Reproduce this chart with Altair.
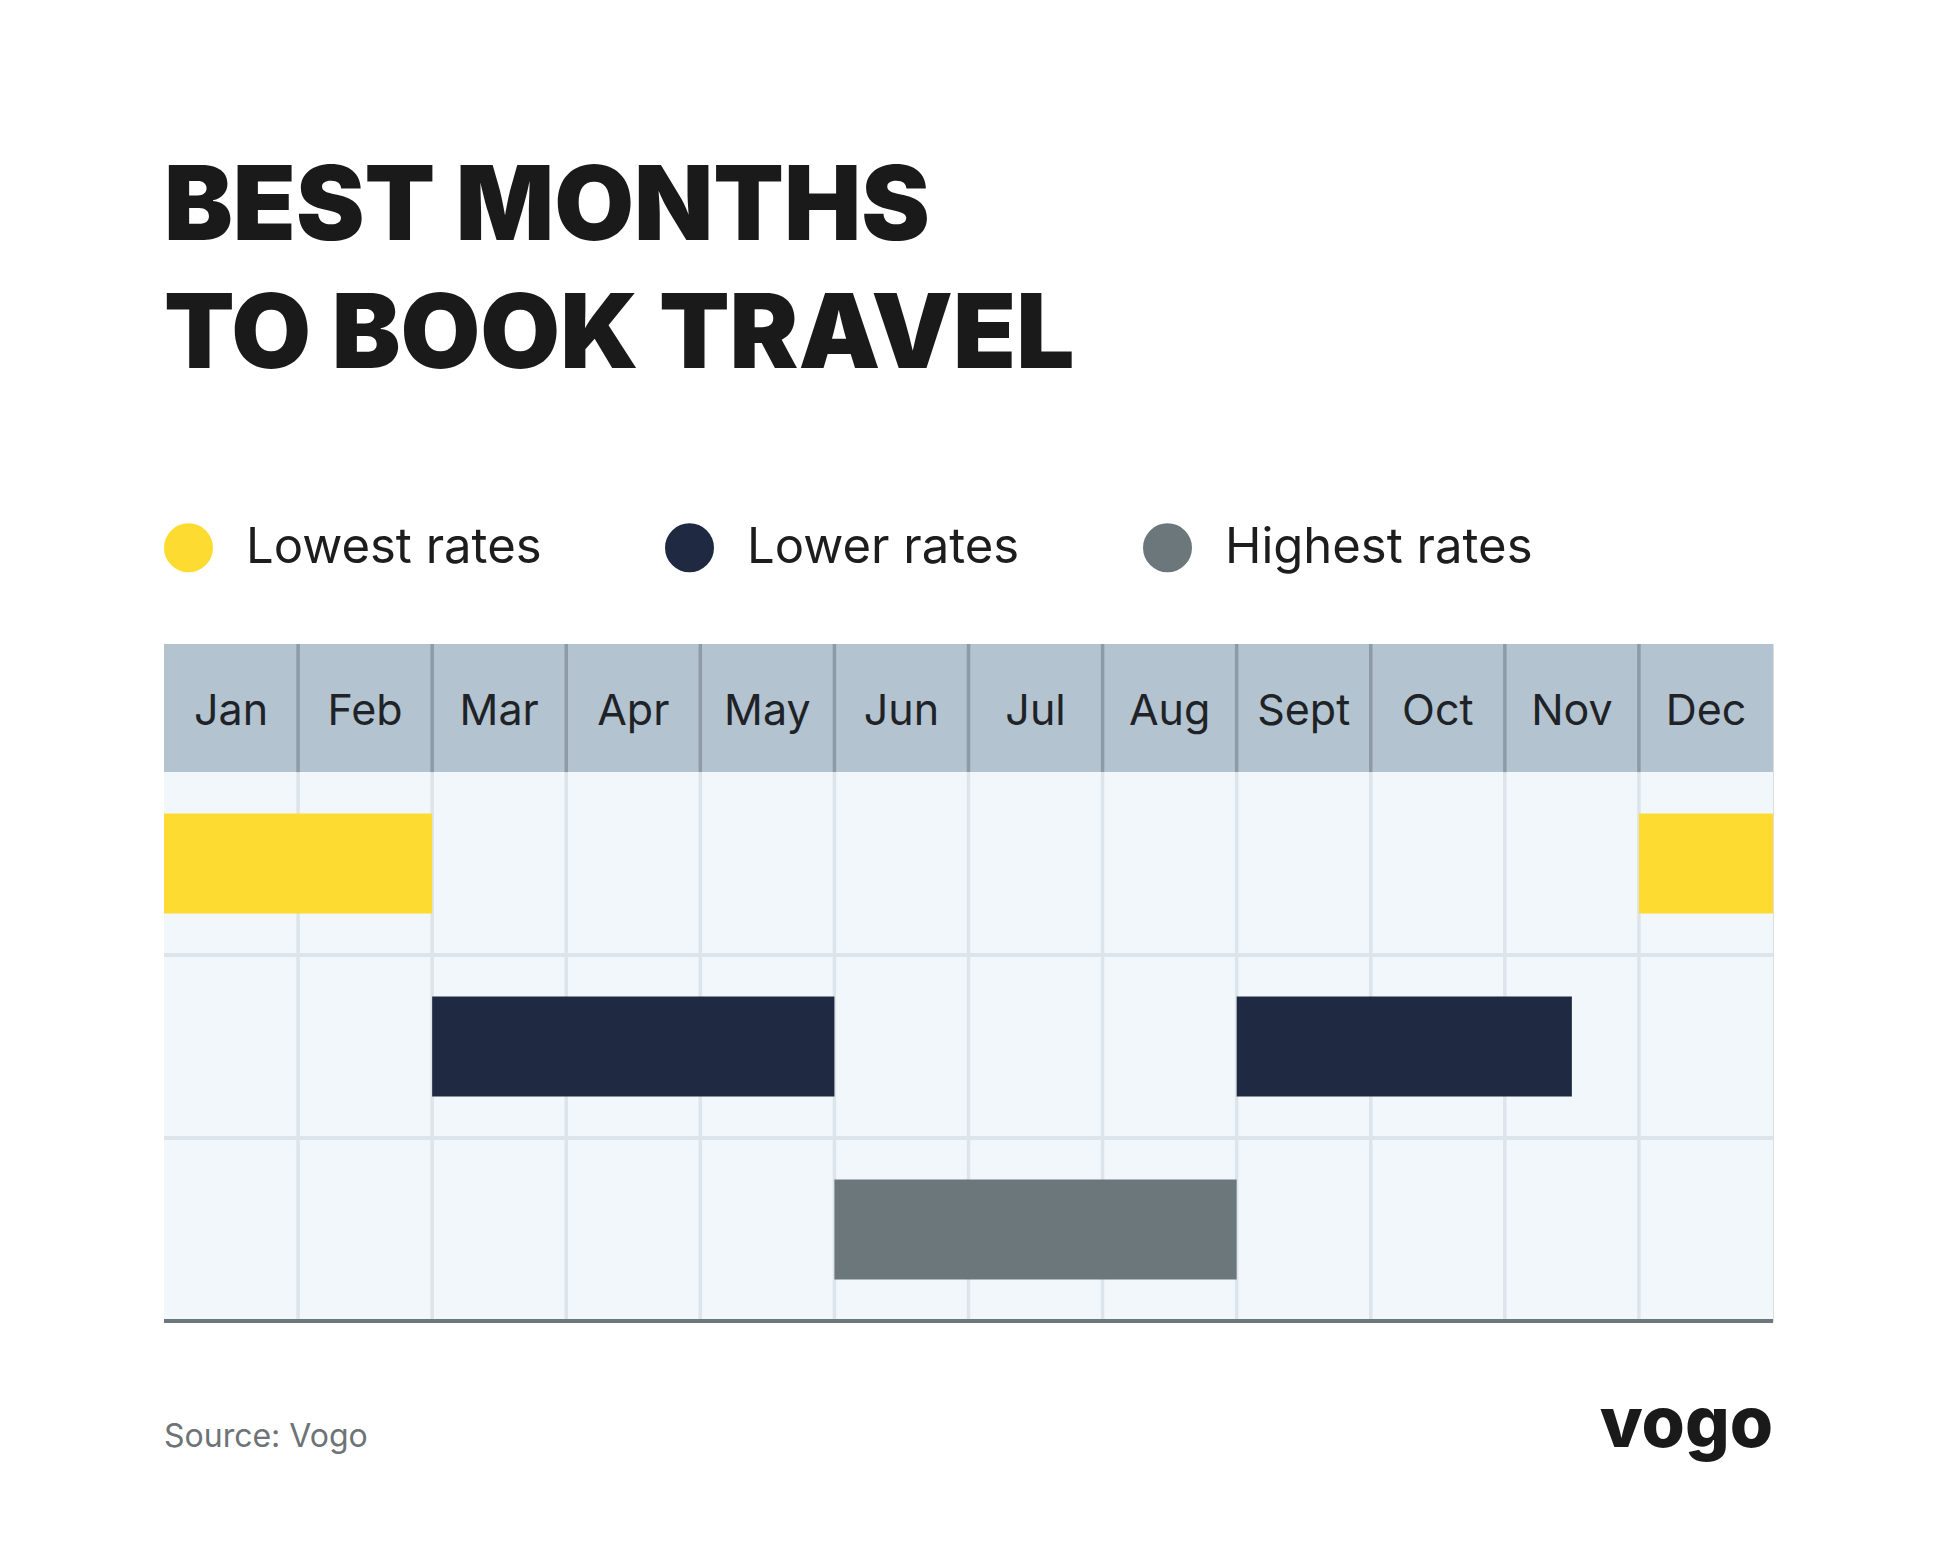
import altair as alt
import pandas as pd

# ---- data ----
months = ["Jan", "Feb", "Mar", "Apr", "May", "Jun", "Jul", "Aug", "Sept", "Oct", "Nov", "Dec"]
categories = ["Lowest rates", "Lower rates", "Highest rates"]
cat_colors = ["#FDDB30", "#1F2A42", "#6C777C"]

bar_category = ["Lowest rates", "Lowest rates", "Lower rates", "Lower rates", "Highest rates"]
bar_start = [0, 11, 2, 8, 5]        # month index where the period starts
bar_end = [2, 12, 5, 10.5, 8]       # month index where the period ends
bar_row = [0, 0, 1, 1, 2]           # row of the grid (one per category)

title_lines = ["BEST MONTHS", "TO BOOK TRAVEL"]
source_text = "Source: Vogo"
logo_text = "vogo"

# ---- geometry helpers (row units) ----
HEADER = 0.7
BAR_PAD = 0.227
W, H = 1609, 677

bars = pd.DataFrame({
    "category": bar_category,
    "start": bar_start,
    "end": bar_end,
    "y0": [r + BAR_PAD for r in bar_row],
    "y1": [r + 1 - BAR_PAD for r in bar_row],
})
month_df = pd.DataFrame({"month": months, "mid": [i + 0.5 for i in range(len(months))], "yc": [-HEADER / 2] * len(months)})
divs = pd.DataFrame({"x": list(range(1, 12))})
rows = pd.DataFrame({"y": [1, 2]})

xs = alt.Scale(domain=[0, 12], nice=False, zero=False)
ys = alt.Scale(domain=[-HEADER, 3], nice=False, zero=False, reverse=True)

base_bg = alt.Chart(pd.DataFrame({"a": [0]}))

body = base_bg.mark_rect(color="#F2F7FC").encode(
    x=alt.X("x0:Q", scale=xs, axis=None), x2="x1:Q",
    y=alt.Y("y0:Q", scale=ys, axis=None), y2="y1:Q",
).transform_calculate(x0="0", x1="12", y0="0", y1="3")

header = base_bg.mark_rect(color="#B3C3CF").encode(
    x=alt.X("x0:Q", scale=xs, axis=None), x2="x1:Q",
    y=alt.Y("y0:Q", scale=ys, axis=None), y2="y1:Q",
).transform_calculate(x0="0", x1="12", y0=f"{-HEADER}", y1="0")

vbody = alt.Chart(divs).mark_rule(color="#DDE4EA", strokeWidth=3.5).encode(
    x=alt.X("x:Q", scale=xs, axis=None),
    y=alt.Y("y0:Q", scale=ys, axis=None), y2="y1:Q",
).transform_calculate(y0="0", y1="3")

vhead = alt.Chart(divs).mark_rule(color="#8C9BA7", strokeWidth=3.5).encode(
    x=alt.X("x:Q", scale=xs, axis=None),
    y=alt.Y("y0:Q", scale=ys, axis=None), y2="y1:Q",
).transform_calculate(y0=f"{-HEADER}", y1="0")

hlines = alt.Chart(rows).mark_rule(color="#DDE4EA", strokeWidth=4).encode(
    y=alt.Y("y:Q", scale=ys, axis=None),
    x=alt.X("x0:Q", scale=xs, axis=None), x2="x1:Q",
).transform_calculate(x0="0", x1="12")

bottom = base_bg.mark_rule(color="#6A777B", strokeWidth=4).encode(
    y=alt.Y("y:Q", scale=ys, axis=None),
    x=alt.X("x0:Q", scale=xs, axis=None), x2="x1:Q",
).transform_calculate(y="3", x0="0", x1="12")

bar_layer = alt.Chart(bars).mark_rect().encode(
    x=alt.X("start:Q", scale=xs, axis=None), x2="end:Q",
    y=alt.Y("y0:Q", scale=ys, axis=None), y2="y1:Q",
    color=alt.Color(
        "category:N",
        scale=alt.Scale(domain=categories, range=cat_colors),
        legend=alt.Legend(
            title=None, orient="none", legendX=0, legendY=-121,
            direction="horizontal", symbolType="circle", symbolSize=2400,
            symbolStrokeWidth=0, labelFontSize=49, labelFont="Inter",
            labelColor="#1D1D1D", labelOffset=33, columnPadding=123,
            labelLimit=0, padding=0,
        ),
    ),
)

month_text = alt.Chart(month_df).mark_text(
    font="Inter", fontSize=43, color="#1F2327", baseline="middle", align="center", dy=4
).encode(
    x=alt.X("mid:Q", scale=xs, axis=None),
    y=alt.Y("yc:Q", scale=ys, axis=None),
    text="month:N",
)

source = base_bg.mark_text(
    font="Inter", fontSize=32, color="#6D7376", align="left", baseline="alphabetic"
).encode(x=alt.value(0), y=alt.value(803), text=alt.value(source_text))

logo = base_bg.mark_text(
    font="Inter", fontSize=70, fontWeight=800, color="#1A1A1A", align="right", baseline="alphabetic"
).encode(x=alt.value(W), y=alt.value(803), text=alt.value(logo_text))

chart = alt.layer(
    body, header, vbody, vhead, hlines, bottom, bar_layer, month_text, source, logo
).properties(
    width=W, height=H,
    title=alt.TitleParams(
        title_lines, anchor="start", fontSize=103, font="Inter", fontWeight=900,
        color="#1A1A1A", lineHeight=128, offset=133, frame="group",
    ),
    autosize=alt.AutoSizeParams(type="none"),
    padding={"left": 156, "top": 636, "right": 150, "bottom": 220},
).configure_view(stroke=None).configure(background="#FFFFFF")

chart.save("out.html", embed_options={"renderer": "svg", "actions": False})
